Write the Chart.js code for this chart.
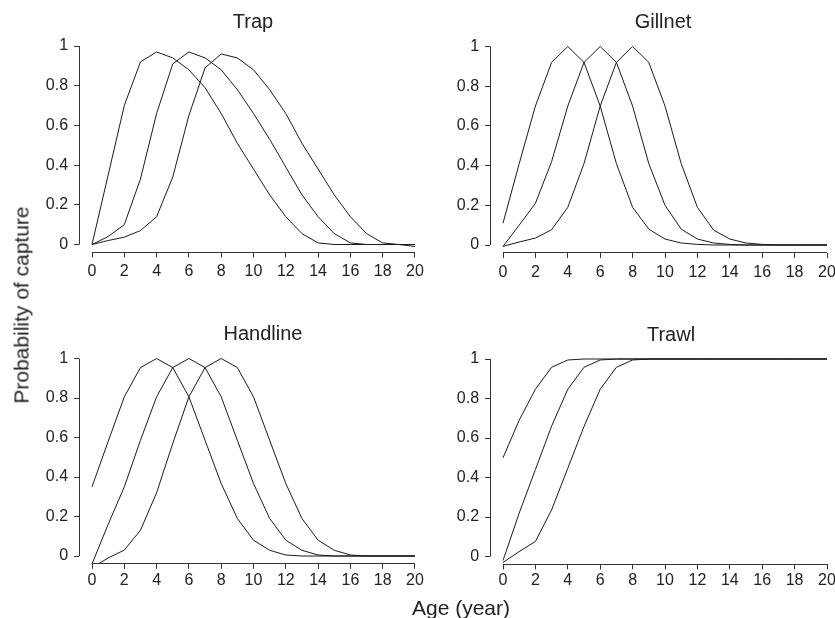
<!DOCTYPE html>
<html>
<head>
<meta charset="utf-8">
<title>Probability of capture by age</title>
<script src="https://cdn.jsdelivr.net/npm/chart.js@4.4.1/dist/chart.umd.min.js"></script>
<style>
  html, body { margin: 0; padding: 0; background: #fff; overflow: hidden; width: 835px; height: 618px; }
  body { position: relative; font-family: "Liberation Sans", Arial, Helvetica, sans-serif; color: #222; }
  canvas { position: absolute; }
  .axis-title { position: absolute; font-size: 21px; white-space: nowrap; line-height: 1; }
  #ylab { left: 21px; top: 305px; transform: translate(-50%, -50%) rotate(-90deg); }
  #xlab { left: 461px; top: 607px; transform: translate(-50%, -50%); }
</style>
</head>
<body>
<canvas id="trap"></canvas>
<canvas id="gillnet"></canvas>
<canvas id="handline"></canvas>
<canvas id="trawl"></canvas>
<div class="axis-title" id="ylab">Probability of capture</div>
<div class="axis-title" id="xlab">Age (year)</div>
<script>
/** datos */
const ages = [0,1,2,3,4,5,6,7,8,9,10,11,12,13,14,15,16,17,18,19,20]
const xTicks = [0,2,4,6,8,10,12,14,16,18,20]
const yTicks = [0,0.2,0.4,0.6,0.8,1]

const trap_1 = [0,0.35,0.70,0.92,0.97,0.94,0.88,0.79,0.66,0.51,0.38,0.25,0.14,0.055,0.008,0,0,0,0,0,0]
const trap_2 = [0,0.04,0.10,0.33,0.66,0.91,0.97,0.94,0.88,0.78,0.66,0.53,0.39,0.25,0.14,0.055,0.008,0,0,0,0]
const trap_3 = [0,0.02,0.037,0.07,0.14,0.34,0.65,0.89,0.96,0.94,0.88,0.78,0.66,0.51,0.38,0.25,0.14,0.055,0.008,0,-0.01]

const gill_1 = [0.11,0.41,0.70,0.92,1,0.92,0.70,0.41,0.19,0.08,0.03,0.01,0.003,0,0,0,0,0,0,0,0]
const gill_2 = [-0.007,0.10,0.21,0.42,0.70,0.92,1,0.92,0.70,0.41,0.20,0.08,0.03,0.01,0.003,0,0,0,0,0,0]
const gill_3 = [-0.007,0.015,0.035,0.077,0.19,0.41,0.70,0.92,1,0.92,0.70,0.41,0.19,0.075,0.03,0.01,0.003,0,0,0,0]

const hand_1 = [0.35,0.58,0.806,0.954,1,0.954,0.806,0.586,0.367,0.19,0.08,0.029,0.005,0,0,0,0,0,0,0,0]
const hand_2 = [-0.04,0.16,0.35,0.586,0.806,0.954,1,0.954,0.806,0.586,0.367,0.19,0.08,0.029,0.005,0,0,0,0,0,0]
const hand_3 = [-0.06,-0.01,0.03,0.13,0.32,0.57,0.806,0.954,1,0.954,0.806,0.586,0.367,0.19,0.08,0.029,0.005,0,0,0,0]

const trawl_1 = [0.5,0.69,0.847,0.958,0.995,1,1,1,1,1,1,1,1,1,1,1,1,1,1,1,1]
const trawl_2 = [-0.02,0.22,0.44,0.66,0.847,0.958,0.995,1,1,1,1,1,1,1,1,1,1,1,1,1,1]
const trawl_3 = [-0.03,0.025,0.076,0.236,0.447,0.658,0.847,0.958,0.995,1,1,1,1,1,1,1,1,1,1,1,1]

/** posiciones de cada panel en la pagina (pixeles) */
const panels = [
  { id: "trap",     title: "Trap",     series: [trap_1, trap_2, trap_3],    x0: 92,  x20: 415, y1: 46,    y0: 244.5, titleX: 253, tickPad: 5 },
  { id: "gillnet",  title: "Gillnet",  series: [gill_1, gill_2, gill_3],    x0: 503, x20: 827, y1: 46.5,  y0: 245,   titleX: 663, tickPad: 5 },
  { id: "handline", title: "Handline", series: [hand_1, hand_2, hand_3],    x0: 92,  x20: 415, y1: 358.5, y0: 556,   titleX: 263, tickPad: 2 },
  { id: "trawl",    title: "Trawl",    series: [trawl_1, trawl_2, trawl_3], x0: 503, x20: 827, y1: 359,   y0: 556.5, titleX: 671, tickPad: 2 }
]

const X_MIN = -0.8, X_MAX = 20.8, Y_MIN = -0.04, Y_MAX = 1.04
const YW = 60, XH = 36, TOP = 40

Chart.defaults.font.family = '"Liberation Sans", Arial, Helvetica, sans-serif'
Chart.defaults.color = "#222"

/** ejes estilo R: linea solo de 0 a 1 y de 0 a 20, y el titulo del panel */
const rAxes = {
  id: "rAxes",
  afterDraw: function (chart, args, opts) {
    var ctx = chart.ctx
    var area = chart.chartArea
    var sx = chart.scales.x
    var sy = chart.scales.y
    ctx.save()
    ctx.strokeStyle = "#333"
    ctx.lineWidth = 1
    ctx.beginPath()
    var lx = Math.floor(area.left) + 0.5
    ctx.moveTo(lx, sy.getPixelForValue(0))
    ctx.lineTo(lx, sy.getPixelForValue(1))
    var by = Math.floor(area.bottom) + 0.5
    ctx.moveTo(sx.getPixelForValue(0), by)
    ctx.lineTo(sx.getPixelForValue(20), by)
    ctx.stroke()

    ctx.fillStyle = "#222"
    ctx.font = '20px "Liberation Sans", Arial, Helvetica, sans-serif'
    ctx.textAlign = "center"
    ctx.textBaseline = "middle"
    ctx.fillText(opts.text, opts.x, area.top - 16)
    ctx.restore()
  }
}

function makePanel(p) {
  let pxX = (p.x20 - p.x0) / 20
  let pxY = p.y0 - p.y1
  let chartLeft = p.x0 + X_MIN * pxX
  let chartRight = p.x0 + X_MAX * pxX
  let chartTop = p.y0 - Y_MAX * pxY
  let chartBottom = p.y0 - Y_MIN * pxY

  let cl = Math.floor(chartLeft - YW)
  let cw = Math.ceil(chartRight) - cl
  let ct = Math.floor(chartTop - TOP)
  let ch = Math.ceil(chartBottom + XH) - ct
  let yw = chartLeft - cl
  let xh = ct + ch - chartBottom

  let canvas = document.getElementById(p.id)
  canvas.width = cw
  canvas.height = ch
  canvas.style.left = cl + "px"
  canvas.style.top = ct + "px"

  let datasets = p.series.map(function (s) {
    return { data: s, borderColor: "#1a1a1a", borderWidth: 1, pointRadius: 0, tension: 0, fill: false }
  })

  return new Chart(canvas.getContext("2d"), {
    type: "line",
    data: { labels: ages, datasets: datasets },
    options: {
      responsive: false,
      animation: false,
      events: [],
      layout: { padding: { left: 0, right: cl + cw - chartRight, top: chartTop - ct, bottom: 0 } },
      plugins: {
        legend: { display: false },
        tooltip: { enabled: false },
        rAxes: { text: p.title, x: p.titleX - cl }
      },
      scales: {
        x: {
          type: "linear",
          min: X_MIN,
          max: X_MAX,
          border: { display: false },
          grid: { drawOnChartArea: false, drawTicks: true, tickLength: 5, color: "#333" },
          ticks: { font: { size: 16 }, padding: p.tickPad, maxRotation: 0, autoSkip: false, callback: function (v) { return String(v) } },
          afterBuildTicks: function (scale) { scale.ticks = xTicks.map(function (v) { return { value: v } }) },
          afterFit: function (scale) { scale.height = xh; scale.paddingLeft = 0; scale.paddingRight = 0 }
        },
        y: {
          min: Y_MIN,
          max: Y_MAX,
          border: { display: false },
          grid: { drawOnChartArea: false, drawTicks: true, tickLength: 5, color: "#333" },
          ticks: { font: { size: 16 }, padding: 6, autoSkip: false, callback: function (v) { return String(v) } },
          afterBuildTicks: function (scale) { scale.ticks = yTicks.map(function (v) { return { value: v } }) },
          afterFit: function (scale) { scale.width = yw; scale.paddingTop = 0; scale.paddingBottom = 0 }
        }
      }
    },
    plugins: [rAxes]
  })
}

let charts = panels.map(makePanel)
</script>
</body>
</html>
